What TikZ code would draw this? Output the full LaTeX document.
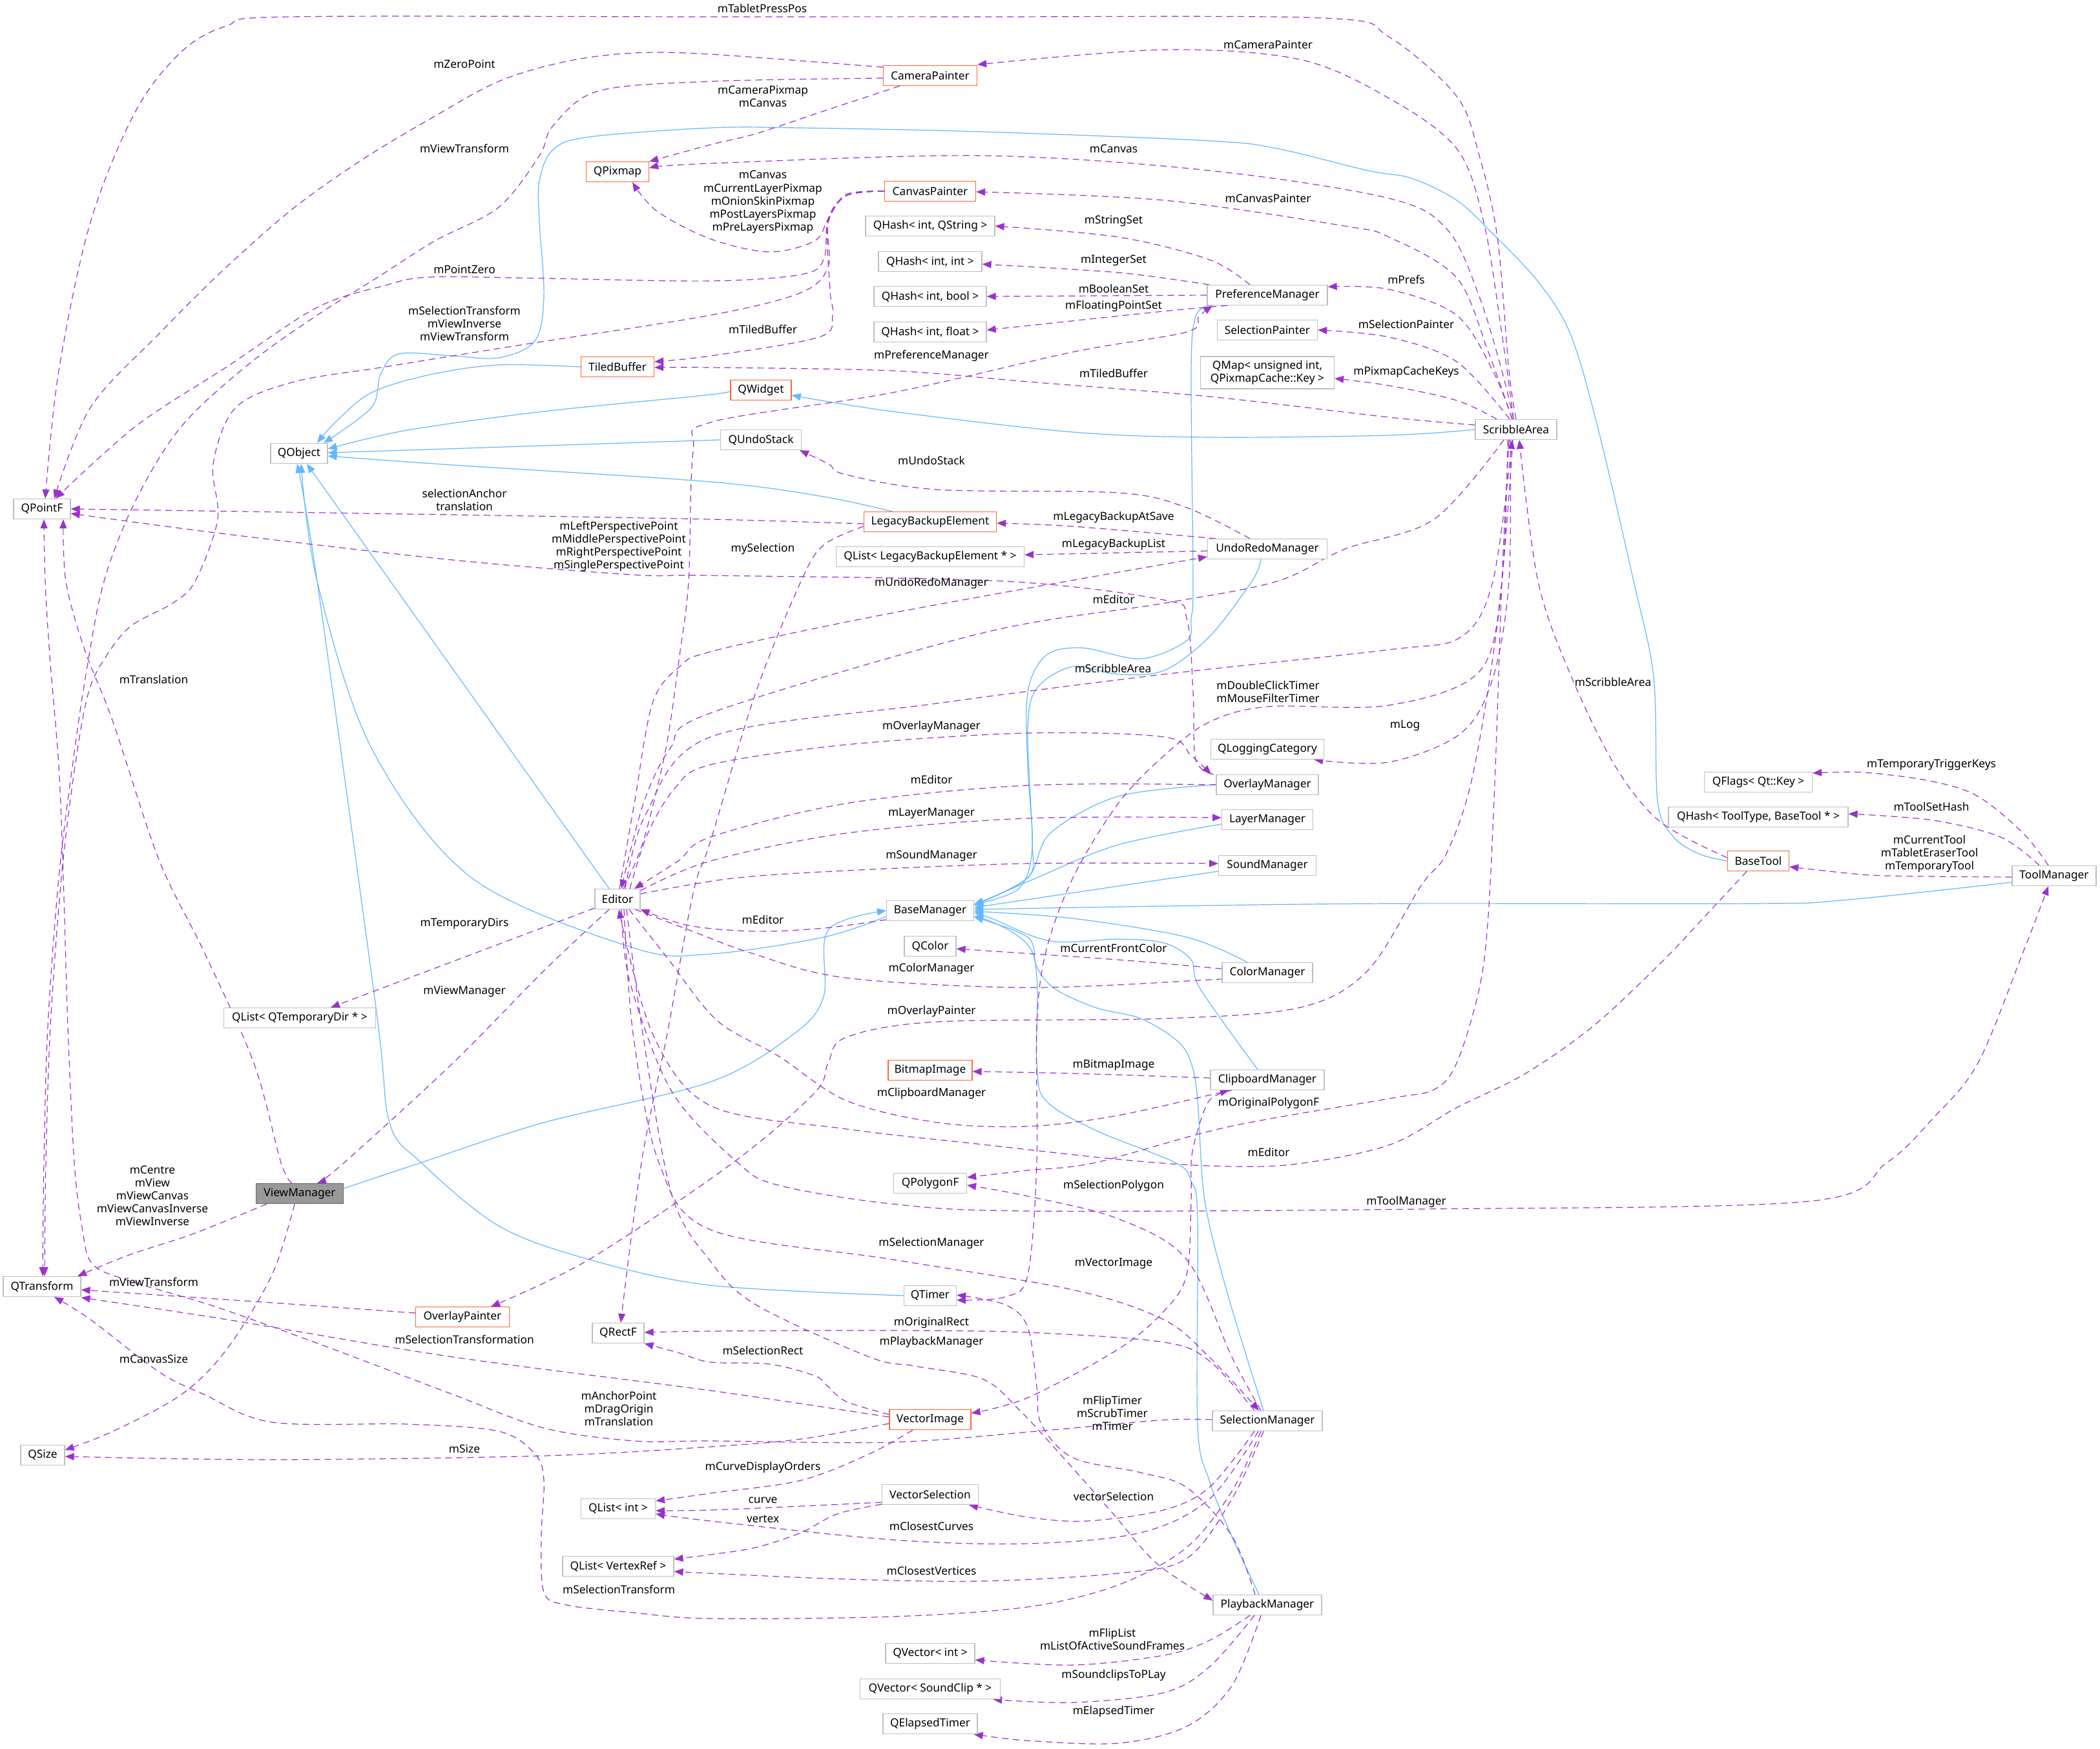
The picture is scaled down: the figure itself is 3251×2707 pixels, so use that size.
\documentclass[tikz,border=0pt]{standalone}
\usepackage{fontspec}
\setmainfont{Noto Sans}
\usetikzlibrary{arrows.meta,backgrounds}
\definecolor{usep}{HTML}{9A32CD}
\definecolor{inhb}{HTML}{63B8FF}
\definecolor{boxg}{HTML}{BFBFBF}
\definecolor{boxo}{HTML}{FF6633}
\definecolor{vmfill}{HTML}{999999}
\definecolor{vmdraw}{HTML}{666666}
\newcommand{\nf}{\fontsize{17.3}{20.1}\selectfont}
\begin{document}
\begin{tikzpicture}[x=1pt,y=-1pt,
  box/.style={draw=boxg,line width=1.2pt,fill=white,inner sep=0pt,minimum height=31pt,font=\nf,text=black,align=center},
  obox/.style={box,draw=boxo},
  lbl/.style={font=\nf,align=center,inner sep=0pt,text=black},
  use/.style={draw=usep,line width=1.2pt,dash pattern=on 10pt off 7pt,-{Triangle[length=14pt,width=11pt]}},
  inh/.style={draw=inhb,line width=1.2pt,-{Triangle[length=14pt,width=11pt]}},
  sm/.style={smooth,tension=0.55}]
\useasboundingbox (0,0) rectangle (3251,2707);
% ---------------- nodes ----------------
\node[box,minimum width=88pt] (QPF) at (65,788) {QPointF};
\node[obox,minimum width=97pt] (QPX) at (956,266) {QPixmap};
\node[obox,minimum width=113pt] (TB) at (956,568) {TiledBuffer};
\node[box,minimum width=88pt] (QO) at (463,702) {QObject};
\node[obox,minimum width=145pt] (CamP) at (1440,117) {CameraPainter};
\node[obox,minimum width=141pt] (CanP) at (1440,296) {CanvasPainter};
\node[box,minimum width=200pt] (HStr) at (1440,350) {QHash< int, QString >};
\node[box,minimum width=160pt] (HInt) at (1440,405) {QHash< int, int >};
\node[box,minimum width=174pt] (HBool) at (1440,459) {QHash< int, bool >};
\node[box,minimum width=174pt] (HFloat) at (1440,514) {QHash< int, float >};
\node[box,minimum width=186pt] (PM) at (1962,457) {PreferenceManager};
\node[box,minimum width=155pt] (SP) at (1962,511) {SelectionPainter};
\node[box,minimum width=207pt,minimum height=50pt] (QMap) at (1962,577) {QMap< unsigned int,\\ QPixmapCache::Key >};
\node[obox,minimum width=94pt] (QW) at (1178,604) {QWidget};
\node[box,minimum width=125pt] (QUS) at (1178,681) {QUndoStack};
\node[obox,minimum width=205pt] (LBE) at (1440,808) {LegacyBackupElement};
\node[box,minimum width=291pt] (QLL) at (1440,862) {QList< LegacyBackupElement * >};
\node[box,minimum width=185pt] (URM) at (1962,850) {UndoRedoManager};
\node[box,minimum width=126pt] (SA) at (2347,665) {ScribbleArea};
\node[box,minimum width=70pt] (Ed) at (956,1392) {Editor};
\node[box,minimum width=235pt] (QLT) at (464,1576) {QList< QTemporaryDir * >};
\node[box,minimum width=175pt] (QLC) at (1962,1160) {QLoggingCategory};
\node[box,minimum width=158pt] (OM) at (1962,1215) {OverlayManager};
\node[box,minimum width=141pt] (LM) at (1962,1269) {LayerManager};
\node[box,minimum width=151pt] (SM) at (1962,1340) {SoundManager};
\node[box,minimum width=135pt] (BM) at (1440,1410) {BaseManager};
\node[box,minimum width=80pt] (QC) at (1440,1465) {QColor};
\node[box,minimum width=140pt] (CM) at (1962,1506) {ColorManager};
\node[obox,minimum width=130pt] (BI) at (1440,1657) {BitmapImage};
\node[box,minimum width=176pt] (CbM) at (1962,1672) {ClipboardManager};
\node[box,minimum width=167pt] (QF) at (2722,1211) {QFlags< Qt::Key >};
\node[box,minimum width=278pt] (HTool) at (2722,1265) {QHash< ToolType, BaseTool * >};
\node[obox,minimum width=95pt] (BT) at (2722,1333) {BaseTool};
\node[box,minimum width=130pt] (TM) at (3180,1356) {ToolManager};
\node[box,draw=vmdraw,fill=vmfill,minimum width=135pt] (VM) at (464,1848) {ViewManager};
\node[box,minimum width=120pt] (QT) at (65,1992) {QTransform};
\node[obox,minimum width=145pt] (OP) at (716,2039) {OverlayPainter};
\node[box,minimum width=80pt] (QR) at (957,2064) {QRectF};
\node[box,minimum width=68pt] (QS) at (66,2253) {QSize};
\node[box,minimum width=115pt] (QLI) at (957,2336) {QList< int >};
\node[box,minimum width=172pt] (QLV) at (957,2425) {QList< VertexRef >};
\node[box,minimum width=113pt] (QPG) at (1440,1832) {QPolygonF};
\node[box,minimum width=81pt] (QTm) at (1440,2006) {QTimer};
\node[obox,minimum width=126pt] (VI) at (1440,2198) {VectorImage};
\node[box,minimum width=170pt] (SelM) at (1962,2200) {SelectionManager};
\node[box,minimum width=149pt] (VS) at (1440,2314) {VectorSelection};
\node[box,minimum width=168pt] (PbM) at (1962,2485) {PlaybackManager};
\node[box,minimum width=138pt] (QVI) at (1440,2560) {QVector< int >};
\node[box,minimum width=217pt] (QVS) at (1440,2615) {QVector< SoundClip * >};
\node[box,minimum width=146pt] (QET) at (1440,2669) {QElapsedTimer};
% ---------------- labels ----------------
\node[lbl] (l1) at (1180,13) {mTabletPressPos};
\node[lbl] (l2) at (719,99) {mZeroPoint};
\node[lbl] (l3) at (1963,69) {mCameraPainter};
\node[lbl] (l4) at (1181,149) {mCameraPixmap\\mCanvas};
\node[lbl] (l5) at (719,230) {mViewTransform};
\node[lbl] (l6) at (1724,230) {mCanvas};
\node[lbl] (l7) at (1181,313) {mCanvas\\mCurrentLayerPixmap\\mOnionSkinPixmap\\mPostLayersPixmap\\mPreLayersPixmap};
\node[lbl] (l8) at (1963,307) {mCanvasPainter};
\node[lbl] (l9) at (1724,342) {mStringSet};
\node[lbl] (l10) at (1724,403) {mIntegerSet};
\node[lbl] (l11) at (1724,447) {mBooleanSet};
\node[lbl] (l12) at (1724,474) {mFloatingPointSet};
\node[lbl] (l13) at (2177,433) {mPrefs};
\node[lbl] (l14) at (2177,502) {mSelectionPainter};
\node[lbl] (l15) at (2177,576) {mPixmapCacheKeys};
\node[lbl] (l16) at (1724,578) {mTiledBuffer};
\node[lbl] (l17) at (1181,510) {mTiledBuffer};
\node[lbl] (l18) at (1442,551) {mPreferenceManager};
\node[lbl] (l19) at (719,417) {mPointZero};
\node[lbl] (l20) at (719,501) {mSelectionTransform\\mViewInverse\\mViewTransform};
\node[lbl] (l21) at (1442,713) {mUndoStack};
\node[lbl] (l22) at (719,774) {selectionAnchor\\translation};
\node[lbl] (l23) at (958,846) {mLeftPerspectivePoint\\mMiddlePerspectivePoint\\mRightPerspectivePoint\\mSinglePerspectivePoint};
\node[lbl] (l24) at (1724,801) {mLegacyBackupAtSave};
\node[lbl] (l25) at (1724,843) {mLegacyBackupList};
\node[lbl] (l26) at (1181,850) {mySelection};
\node[lbl] (l27) at (1442,903) {mUndoRedoManager};
\node[lbl] (l28) at (1724,928) {mEditor};
\node[lbl] (l29) at (1723,1035) {mScribbleArea};
\node[lbl] (l30) at (1963,1071) {mDoubleClickTimer\\mMouseFilterTimer};
\node[lbl] (l31) at (2175,1123) {mLog};
\node[lbl] (l32) at (2497,1056) {mScribbleArea};
\node[lbl] (l33) at (1442,1125) {mOverlayManager};
\node[lbl] (l34) at (1442,1207) {mEditor};
\node[lbl] (l35) at (1442,1259) {mLayerManager};
\node[lbl] (l36) at (1442,1325) {mSoundManager};
\node[lbl] (l37) at (1181,1424) {mEditor};
\node[lbl] (l38) at (1724,1468) {mCurrentFrontColor};
\node[lbl] (l39) at (1442,1500) {mColorManager};
\node[lbl] (l40) at (1442,1566) {mOverlayPainter};
\node[lbl] (l41) at (719,1430) {mTemporaryDirs};
\node[lbl] (l42) at (719,1535) {mViewManager};
\node[lbl] (l43) at (1724,1649) {mBitmapImage};
\node[lbl] (l44) at (1442,1693) {mClipboardManager};
\node[lbl] (l45) at (1964,1708) {mOriginalPolygonF};
\node[lbl] (l46) at (1964,1784) {mEditor};
\node[lbl] (l47) at (2177,1861) {mToolManager};
\node[lbl] (l48) at (1724,1836) {mSelectionPolygon};
\node[lbl] (l49) at (1442,1925) {mSelectionManager};
\node[lbl] (l50) at (1724,1956) {mVectorImage};
\node[lbl] (l51) at (1442,2048) {mOriginalRect};
\node[lbl] (l52) at (1442,2078) {mPlaybackManager};
\node[lbl] (l53) at (1181,2091) {mSelectionRect};
\node[lbl] (l54) at (1722,2188) {mFlipTimer\\mScrubTimer\\mTimer};
\node[lbl] (l55) at (958,2181) {mAnchorPoint\\mDragOrigin\\mTranslation};
\node[lbl] (l56) at (719,2243) {mSize};
\node[lbl] (l57) at (238,2104) {mCanvasSize};
\node[lbl] (l58) at (236,1851) {mCentre\\mView\\mViewCanvas\\mViewCanvasInverse\\mViewInverse};
\node[lbl] (l59) at (238,1985) {mViewTransform};
\node[lbl] (l60) at (719,2074) {mSelectionTransformation};
\node[lbl] (l61) at (1181,2272) {mCurveDisplayOrders};
\node[lbl] (l62) at (1181,2323) {curve};
\node[lbl] (l63) at (1181,2352) {vertex};
\node[lbl] (l64) at (1724,2317) {vectorSelection};
\node[lbl] (l65) at (1442,2363) {mClosestCurves};
\node[lbl] (l66) at (1442,2432) {mClosestVertices};
\node[lbl] (l67) at (958,2461) {mSelectionTransform};
\node[lbl] (l68) at (1722,2538) {mFlipList\\mListOfActiveSoundFrames};
\node[lbl] (l69) at (1724,2594) {mSoundclipsToPLay};
\node[lbl] (l70) at (1724,2650) {mElapsedTimer};
\node[lbl] (l71) at (2990,1184) {mTemporaryTriggerKeys};
\node[lbl] (l72) at (2990,1249) {mToolSetHash};
\node[lbl] (l73) at (2987,1322) {mCurrentTool\\mTabletEraserTool\\mTemporaryTool};
\node[lbl] (l74) at (238,1052) {mTranslation};
% ---------------- edges ----------------
\begin{pgfonlayer}{background}
\fill[white] (0,0) rectangle (3251,2707);
% inheritance
\draw[inh] plot[sm] coordinates {(QW.west) (1100,611) (842,637) (631,666) ([yshift=7pt]QO.east)};
\draw[inh] (QUS.west) -- ([yshift=1pt]QO.east);
\draw[inh] plot[sm] coordinates {([xshift=-59pt]LBE.north) (1275,769) (1100,746) (701,720) ([yshift=-4pt]QO.east)};
\draw[inh] plot[sm] coordinates {(TB.west) (772,565) (666,580) (575,608) (519,654) ([xshift=28pt]QO.north)};
\draw[inh] plot[sm] coordinates {(BT.west) (2630,1322) (2590,1295) (2566,1240) (2560,1049) (2529,900) (2473,660) (2431,517) (2381,436) (2311,362) (2255,310) (2185,276) (2117,264) (1977,230) (1872,218) (1521,204) (1240,198) (1100,198) (912,212) (856,232) (835,280) (835,344) (842,459) (828,528) (772,554) (701,551) (617,548) (589,580) (575,631) ([xshift=38pt]QO.north)};
\draw[inh] plot[sm] coordinates {(SA.west) (2150,674) (1872,677) (1661,669) (1381,637) ([yshift=-8pt]QW.east)};
\draw[inh] ([xshift=-13pt]Ed.north) -- ([xshift=12pt]QO.south);
\draw[inh] plot[sm] coordinates {([yshift=-9pt]BM.west) (1275,1451) (1100,1477) (982,1468) (730,1359) (575,1158) (491,900) ([xshift=3pt]QO.south)};
\draw[inh] plot[sm] coordinates {(QTm.west) (1100,1990) (912,1950) (772,1898) (652,1800) (603,1738) (582,1560) (491,900) ([xshift=-3pt]QO.south)};
\draw[inh] plot[sm] coordinates {([yshift=8pt]VM.east) (652,1800) (842,1738) (1100,1675) (1230,1600) (1275,1543) (1282,1440) (BM.west)};
\draw[inh] plot[sm] coordinates {(OM.west) (1731,1233) (1626,1290) (1591,1359) ([yshift=10pt]BM.east)};
\draw[inh] plot[sm] coordinates {([yshift=-7pt]LM.west) (1731,1308) (1605,1359) ([yshift=8pt]BM.east)};
\draw[inh] ([yshift=-9pt]SM.west) -- ([yshift=5pt]BM.east);
\draw[inh] plot[sm] coordinates {([yshift=-10pt]TM.west) (2851,1394) (2711,1399) (2150,1399) (1800,1403) ([yshift=2pt]BM.east)};
\draw[inh] plot[sm] coordinates {([xshift=-31pt]CM.north) (1837,1451) (1661,1422) ([yshift=-1pt]BM.east)};
\draw[inh] plot[sm] coordinates {([xshift=-15pt]CbM.north) (1858,1531) (1844,1486) (1802,1460) (1731,1454) (1626,1457) (1535,1422) ([yshift=-3pt]BM.east)};
\draw[inh] plot[sm] coordinates {([xshift=-6pt]SelM.north) (1900,2002) (1865,1858) (1854,1703) (1844,1646) (1823,1612) (1766,1577) (1696,1560) (1633,1531) (1605,1497) (1591,1451) ([yshift=-10pt]BM.east)};
\draw[inh] plot[sm] coordinates {([xshift=-13pt]PbM.north) (1907,2379) (1872,2292) (1854,2205) (1854,1887) (1844,1829) (1819,1800) (1696,1750) (1619,1704) (1605,1646) (1598,1474) ([yshift=-8pt]BM.east)};
\draw[inh] plot[sm] coordinates {([xshift=-10pt]URM.south) (1938,900) (1872,986) (1802,1038) (1731,1044) (1661,1032) (1605,1066) (1591,1130) (1598,1302) (1591,1359) ([yshift=9pt]BM.east)};
\draw[inh] plot[sm] coordinates {([xshift=-90pt]PM.south) (1851,490) (1844,574) (1847,900) (1844,957) (1837,992) (1766,1020) (1675,1003) (1619,1015) (1591,1072) (1591,1187) (1598,1313) (1577,1376) ([yshift=10pt]BM.east)};
% usage: ScribbleArea
\draw[use] plot[sm] coordinates {(SA.north) (2336,574) (2318,367) (2290,241) (2255,149) (2150,57) (2050,28) (1500,26) (1100,26) (449,26) (351,40) (281,80) (210,172) (140,344) (91,574) ([xshift=5pt]QPF.north)};
\draw[use] plot[sm] coordinates {([xshift=-4pt]SA.north) (2325,517) (2297,344) (2255,230) (2150,152) (2012,92) (1801,77) ([yshift=17pt]CamP.east)};
\draw[use] plot[sm] coordinates {([xshift=-4pt]SA.north) (2325,574) (2290,459) (2241,356) (2150,307) (1872,264) (1521,241) (1100,253) ([yshift=6pt]QPX.east)};
\draw[use] plot[sm] coordinates {([xshift=-6pt]SA.north) (2304,545) (2255,430) (2150,367) (2082,350) (1801,310) ([yshift=-1pt]CanP.east)};
\draw[use] plot[sm] coordinates {([xshift=-6pt]SA.north) (2311,574) (2255,488) (2150,448) ([yshift=13pt]PM.east)};
\draw[use] plot[sm] coordinates {([xshift=-10pt]SA.north) (2255,560) (2150,522) (SP.east)};
\draw[use] plot[sm] coordinates {([xshift=-30pt]SA.north) (2255,620) (2150,597) ([yshift=-9pt]QMap.east)};
\draw[use] plot[sm] coordinates {([yshift=7pt]SA.west) (2150,646) (1872,614) (1591,591) (1381,574) (1100,569) ([yshift=-1pt]TB.east)};
\draw[use] plot[sm] coordinates {([xshift=-19pt]SA.south) (2220,804) (2082,850) (1977,900) (1802,934) (1521,980) (1100,1104) (1038,1158) (996,1244) ([xshift=6pt]Ed.north)};
\draw[use] plot[sm] coordinates {([xshift=-13pt]SA.south) (2325,900) (2290,1040) (2150,1092) (1963,1094) (1872,1118) (1802,1170) (1731,1244) (1661,1359) (1619,1474) (1605,1589) (1605,1800) (1591,1974) (1556,2008) ([yshift=-7pt]QTm.east)};
\draw[use] plot[sm] coordinates {([xshift=-9pt]SA.south) (2336,900) (2311,1050) (2262,1135) (2150,1180) ([xshift=-16pt]QLC.south east)};
\draw[use] plot[sm] coordinates {([xshift=-5pt]SA.south) (2320,950) (2280,1200) (2240,1320) (2200,1371) (2117,1503) (2012,1560) (1802,1577) (1451,1582) (1310,1606) (1282,1646) (1261,1692) (1135,1800) (912,1950) ([xshift=44pt]OP.north)};
\draw[use] plot[sm] coordinates {([xshift=-11pt]SA.south) (2325,900) (2315,1187) (2304,1417) (2290,1531) (2255,1646) (2220,1687) (2150,1701) (1900,1745) (1696,1800) (1591,1812) ([yshift=9pt]QPG.east)};
% CameraPainter / CanvasPainter
\draw[use] plot[sm] coordinates {([xshift=-47pt]CamP.south) (1275,172) (1170,207) (1100,224) ([yshift=16pt]QPX.east)};
\draw[use] plot[sm] coordinates {([yshift=13pt]CamP.west) (1100,84) (982,82) (877,95) (772,126) (666,184) (561,247) (456,321) (351,413) (246,517) (140,631) ([xshift=19pt]QPF.north)};
\draw[use] plot[sm] coordinates {([yshift=-4pt]CamP.west) (1100,126) (926,141) (856,195) (835,241) (772,321) (673,373) (582,431) (491,488) (386,563) (281,660) (210,775) (161,900) (133,1044) (112,1187) (91,1359) (74,1589) (68,1800) ([xshift=1pt]QT.north)};
\draw[use] plot[sm] coordinates {(CanP.west) (1310,301) (1282,339) (1261,373) (1191,390) (1100,370) (1017,327) ([xshift=23pt]QPX.south)};
\draw[use] plot[sm] coordinates {(CanP.west) (1310,303) (1282,339) (1275,402) (1240,425) (1100,435) (842,431) (666,429) (596,442) (491,476) (351,568) (210,660) ([xshift=21pt]QPF.north)};
\draw[use] plot[sm] coordinates {(CanP.west) (1310,303) (1282,345) (1282,413) (1240,453) (1100,488) (807,534) (596,568) (456,591) (365,631) (330,718) (337,804) (302,900) (267,934) (203,969) (165,1015) (137,1072) (116,1187) (95,1359) (78,1589) (71,1800) ([xshift=4pt]QT.north)};
\draw[use] plot[sm] coordinates {(CanP.west) (1310,303) (1282,345) (1285,450) (1289,488) (1268,522) (1100,551) ([yshift=8pt]TB.east)};
% PreferenceManager
\draw[use] plot[sm] coordinates {([xshift=-27pt]PM.north) (1872,402) (1731,367) (HStr.east)};
\draw[use] plot[sm] coordinates {([xshift=-90pt]PM.north) (1731,422) ([yshift=-4pt]HInt.east)};
\draw[use] (PM.west) -- (HBool.east);
\draw[use] plot[sm] coordinates {([xshift=-62pt]PM.south) (1801,482) ([yshift=3pt]HFloat.east)};
% UndoRedoManager / LegacyBackupElement
\draw[use] plot[sm] coordinates {([xshift=-27pt]URM.north) (1837,786) (1731,763) (1451,758) (1310,735) (1282,718) ([xshift=60pt]QUS.south)};
\draw[use] plot[sm] coordinates {([xshift=-80pt]URM.north) (1661,815) ([yshift=-2pt]LBE.east)};
\draw[use] ([yshift=-3pt]URM.west) -- ([yshift=3pt]QLL.east);
\draw[use] plot[sm] coordinates {([yshift=-3pt]LBE.west) (1100,804) (701,797) (QPF.east)};
\draw[use] plot[sm] coordinates {([yshift=-7pt]LBE.west) (1275,844) (1240,900) (1170,1072) (1100,1302) (1073,1383) (1033,1600) (993,1800) ([xshift=4pt]QR.north)};
% Editor outgoing / incoming
\draw[use] plot[sm] coordinates {([xshift=9pt]Ed.north) (996,1302) (1031,1158) (1052,1015) (1066,900) (1073,700) (1100,654) (1381,608) (1661,545) (1837,514) (1856,490) ([xshift=-85pt]PM.south)};
\draw[use] plot[sm] coordinates {([xshift=3pt]Ed.north) (982,1244) (1010,1089) (1052,1032) (1100,1009) (1310,963) (1556,917) ([yshift=-12pt]URM.west)};
\draw[use] plot[sm] coordinates {([xshift=12pt]Ed.north) (1000,1260) (1100,1141) (1451,1089) (1802,1044) (2150,1006) (2262,986) (2311,900) ([xshift=-6pt]SA.south)};
\draw[use] plot[sm] coordinates {([xshift=19pt]Ed.north) (1003,1290) (1045,1220) (1100,1184) (1310,1153) (1591,1135) (1802,1141) (1844,1170) ([xshift=-87pt]OM.north)};
\draw[use] plot[sm] coordinates {(OM.west) (1591,1216) (1310,1244) (1100,1296) (1050,1333) ([xshift=26pt]Ed.north)};
\draw[use] plot[sm] coordinates {([yshift=-3pt]Ed.north east) (1100,1333) (1310,1290) (1591,1267) ([yshift=3pt]LM.west)};
\draw[use] plot[sm] coordinates {([yshift=8pt]Ed.east) (1133,1360) (1310,1348) (1591,1337) ([yshift=3pt]SM.west)};
\draw[use] plot[sm] coordinates {([yshift=-14pt]BM.west) (1275,1437) (1170,1442) (1067,1433) (Ed.south east)};
\draw[use] plot[sm] coordinates {([xshift=-8pt]Ed.south east) (1067,1440) (1167,1477) (1310,1514) (1591,1529) (1872,1517) ([yshift=-8pt]CM.west)};
\draw[use] ([yshift=-14pt]Ed.west) -- ([xshift=48pt]QLT.north);
\draw[use] plot[sm] coordinates {([xshift=-13pt]Ed.south) (842,1503) (701,1646) (533,1800) ([xshift=27pt]VM.north)};
\draw[use] plot[sm] coordinates {([xshift=18pt]Ed.south) (1033,1483) (1110,1580) (1205,1635) (1310,1704) (1451,1738) (1591,1744) (1731,1727) ([xshift=-59pt]CbM.south)};
\draw[use] plot[sm] coordinates {([xshift=6pt]Ed.south) (975,1520) (1040,1690) (1142,1800) (1205,1835) (1381,1864) (1591,1875) (2200,1872) (2800,1860) (2921,1800) (2992,1732) (3062,1646) (3132,1474) ([xshift=-9pt]TM.south)};
\draw[use] plot[sm] coordinates {([xshift=10pt]Ed.south) (980,1600) (1020,1800) (1100,1904) (1381,1950) (1661,1997) (1801,2043) (1872,2101) ([xshift=-13pt]SelM.north)};
\draw[use] plot[sm] coordinates {([xshift=14pt]Ed.south) (995,1600) (1040,1850) (1100,1953) (1170,2020) (1346,2101) (1416,2115) (1521,2135) (1577,2182) (1640,2250) (1720,2340) (1790,2420) ([yshift=7pt]PbM.west)};
\draw[use] plot[sm] coordinates {([xshift=-18pt]BT.south) (2641,1417) (2571,1491) (2466,1589) (2360,1663) (2255,1715) (2150,1773) (2000,1803) (1872,1805) (1731,1795) (1521,1772) (1310,1748) (1100,1712) (1010,1600) ([xshift=2pt]Ed.south)};
% ToolManager / BaseTool
\draw[use] plot[sm] coordinates {([xshift=-9pt]TM.north) (3132,1290) (3062,1233) (2992,1210) (2887,1196) ([yshift=14pt]QF.east)};
\draw[use] plot[sm] coordinates {([xshift=-23pt]TM.north) (3097,1296) (2992,1270) ([yshift=5pt]HTool.east)};
\draw[use] plot[sm] coordinates {([yshift=-2pt]TM.west) (2922,1356) (2851,1351) ([yshift=-9pt]BT.east)};
\draw[use] plot[sm] coordinates {([yshift=5pt]BT.west) (2571,1273) (2501,1187) (2431,1044) (2381,900) ([xshift=5pt]SA.south)};
% ColorManager / ClipboardManager
\draw[use] plot[sm] coordinates {([yshift=6pt]CM.west) (1731,1486) ([yshift=-4pt]QC.east)};
\draw[use] plot[sm] coordinates {([yshift=3pt]CbM.west) (1661,1662) ([yshift=-2pt]BI.east)};
\draw[use] plot[sm] coordinates {([xshift=-55pt]CbM.south) (1872,1704) (1851,1761) (1844,1800) (1844,1858) (1837,1974) (1801,2031) (1731,2089) (1591,2164) ([yshift=10pt]VI.east)};
% SelectionManager
\draw[use] plot[sm] coordinates {([xshift=-10pt]SelM.north) (1907,2101) (1837,1950) (1731,1887) (1591,1852) ([yshift=-3pt]QPG.east)};
\draw[use] plot[sm] coordinates {([xshift=-20pt]SelM.north) (1872,2107) (1801,2078) (1591,2063) (1381,2060) (1100,2061) ([yshift=1pt]QR.east)};
\draw[use] plot[sm] coordinates {([yshift=2pt]SelM.west) (1795,2199) (1605,2216) (1381,2233) (1100,2231) (982,2231) (842,2211) (701,2159) (500,2083) (333,2023) (200,1983) (143,1957) (127,1900) (115,1800) (105,1589) (98,1359) (91,1187) (77,1015) (70,900) ([xshift=3pt]QPF.south)};
\draw[use] plot[sm] coordinates {([xshift=-10pt]SelM.south) (1907,2309) (1837,2396) (1731,2454) (1591,2488) (1381,2503) (1100,2506) (982,2497) (877,2485) (842,2465) (838,2378) (842,2292) (828,2251) (772,2216) (631,2205) (421,2202) (316,2159) (246,2124) (140,2043) ([xshift=19pt]QT.south)};
\draw[use] plot[sm] coordinates {([xshift=-20pt]SelM.south) (1872,2303) (1801,2338) (1682,2355) (1591,2349) ([xshift=60pt]VS.south)};
\draw[use] plot[sm] coordinates {([xshift=-14pt]SelM.south) (1872,2321) (1766,2373) (1591,2390) (1381,2384) (1100,2355) ([yshift=-8pt]QLI.east)};
\draw[use] plot[sm] coordinates {([xshift=-6pt]SelM.south) (1907,2321) (1837,2413) (1731,2436) (1521,2448) (1310,2445) (1100,2436) ([yshift=-8pt]QLV.east)};
% VectorImage / VectorSelection
\draw[use] plot[sm] coordinates {([yshift=8pt]VI.west) (1310,2170) (1282,2147) (1261,2130) (1191,2112) (1100,2109) (1052,2095) (QR.south east)};
\draw[use] plot[sm] coordinates {([yshift=4pt]VI.west) (1100,2153) (701,2101) (351,2043) ([yshift=-17pt]QT.east)};
\draw[use] plot[sm] coordinates {([yshift=-6pt]VI.west) (1240,2228) (1100,2240) (842,2254) (421,2260) ([yshift=-2pt]QS.east)};
\draw[use] plot[sm] coordinates {([xshift=-27pt]VI.south) (1346,2251) (1240,2292) (1100,2312) ([yshift=12pt]QLI.east)};
\draw[use] plot[sm] coordinates {([yshift=-12pt]VS.west) (1240,2332) (1100,2338) ([yshift=-3pt]QLI.east)};
\draw[use] plot[sm] coordinates {([yshift=-15pt]VS.west) (1296,2344) (1240,2373) (1170,2396) (1100,2407) ([yshift=11pt]QLV.east)};
% PlaybackManager
\draw[use] plot[sm] coordinates {([xshift=-19pt]PbM.north) (1907,2378) (1837,2303) (1766,2280) (1661,2257) (1612,2205) (1605,2147) (1591,2055) (1556,2020) ([yshift=1pt]QTm.east)};
\draw[use] plot[sm] coordinates {([xshift=-27pt]PbM.south) (1872,2540) (1801,2563) (1661,2578) ([yshift=-10pt]QVI.east)};
\draw[use] plot[sm] coordinates {([xshift=-20pt]PbM.south) (1872,2581) (1801,2621) (1661,2636) ([xshift=-12pt]QVS.south east)};
\draw[use] plot[sm] coordinates {([xshift=-10pt]PbM.south) (1907,2610) (1837,2673) (1731,2699) (1591,2695) ([xshift=-6pt]QET.south east)};
% ViewManager / OverlayPainter / OverlayManager
\draw[use] plot[sm] coordinates {([xshift=-12pt]VM.north) (435,1800) (393,1646) (316,1474) (246,1331) (175,1118) (130,1003) (102,900) ([xshift=33pt]QPF.south)};
\draw[use] plot[sm] coordinates {([xshift=-51pt]VM.south) (300,1910) (200,1943) ([xshift=55pt]QT.north)};
\draw[use] plot[sm] coordinates {([xshift=-8pt]VM.south) (421,1974) (351,2089) (281,2159) (175,2216) ([yshift=8pt]QS.east)};
\draw[use] plot[sm] coordinates {([yshift=6pt]OP.west) (421,2017) ([yshift=-5pt]QT.east)};
\draw[use] plot[sm] coordinates {([xshift=-83pt]OM.north) (1851,1176) (1847,1072) (1837,957) (1802,929) (1556,900) (1100,891) (982,890) (701,867) (351,827) ([yshift=-7pt]QPF.east)};
\end{pgfonlayer}
\end{tikzpicture}
\end{document}
